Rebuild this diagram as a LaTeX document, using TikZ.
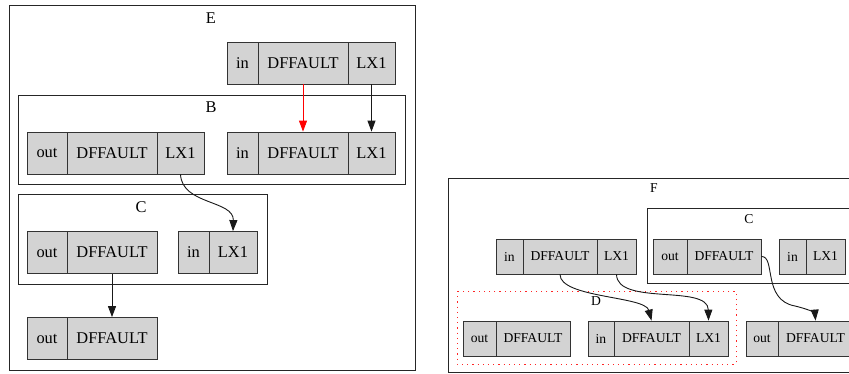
\documentclass[tikz,border=0pt]{standalone}
\usepackage{fontspec}
\setmainfont{Liberation Serif}
\usetikzlibrary{arrows.meta}
\begin{document}
\begin{tikzpicture}[x=1pt,y=-1pt,
  cellbig/.style={draw=black!80, line width=0.8pt, fill={rgb,255:red,211;green,211;blue,211}, inner sep=0pt, minimum height=42pt, font=\fontsize{16.4}{18}\selectfont},
  cellsmall/.style={draw=black!80, line width=0.8pt, fill={rgb,255:red,211;green,211;blue,211}, inner sep=0pt, minimum height=35pt, font=\fontsize{13.6}{15}\selectfont},
  cluster/.style={draw=black!85, line width=0.9pt},
  clusterD/.style={draw=red!85, line width=1pt, dash pattern=on 1.2pt off 4pt},
  biglabel/.style={font=\fontsize{16.4}{18}\selectfont, inner sep=0pt},
  smalllabel/.style={font=\fontsize{13.6}{15}\selectfont, inner sep=0pt},
  edge/.style={draw=black!90, line width=0.9pt, -{Triangle[length=11pt,width=8pt]}},
  redge/.style={draw=red, line width=0.9pt, -{Triangle[length=11pt,width=8pt]}}
]
\useasboundingbox (0,0) rectangle (849,373);
\fill[white] (0,0) rectangle (849,373);
\begin{scope}
\clip (0,0) rectangle (849,373);
% ---------------- Left: cluster E ----------------
\draw[cluster] (9,5) rectangle (415,370);
\node[biglabel] (lE) at (211,18) {E};
\draw[cluster] (18,95) rectangle (405,184);
\node[biglabel] (lB) at (211,107) {B};
\draw[cluster] (18,194) rectangle (267,284);
\node[biglabel] (lC) at (141,207) {C};

% E top node
\node[cellbig, minimum width=31pt] (e1in) at (242.5,63) {in};
\node[cellbig, minimum width=90pt] (e1df) at (303,63) {DFFAULT};
\node[cellbig, minimum width=47pt] (e1lx) at (371.5,63) {LX1};
% B left
\node[cellbig, minimum width=40pt] (b1out) at (47,153) {out};
\node[cellbig, minimum width=90pt] (b1df) at (112,153) {DFFAULT};
\node[cellbig, minimum width=47pt] (b1lx) at (180.5,153) {LX1};
% B right
\node[cellbig, minimum width=31pt] (b2in) at (242.5,153) {in};
\node[cellbig, minimum width=90pt] (b2df) at (303,153) {DFFAULT};
\node[cellbig, minimum width=47pt] (b2lx) at (371.5,153) {LX1};
% C left
\node[cellbig, minimum width=40pt] (c1out) at (47,252.5) {out};
\node[cellbig, minimum width=90pt] (c1df) at (112,252.5) {DFFAULT};
% C right
\node[cellbig, minimum width=31pt] (c2in) at (193.5,252.5) {in};
\node[cellbig, minimum width=48pt] (c2lx) at (233,252.5) {LX1};
% bottom
\node[cellbig, minimum width=40pt] (e2out) at (47,338.5) {out};
\node[cellbig, minimum width=90pt] (e2df) at (112,338.5) {DFFAULT};

\draw[redge] (e1df.south) -- (b2df.north);
\draw[edge] (e1lx.south) -- (b2lx.north);
\draw[edge] (b1lx.south) .. controls (182,205) and (234,200) .. (c2lx.north);
\draw[edge] (c1df.south) -- (e2df.north);

% ---------------- Right: cluster F ----------------
\draw[cluster] (448,178) rectangle (890,372);
\node[smalllabel] (lF) at (654,188) {F};
\draw[cluster] (647,208) rectangle (880,283);
\node[smalllabel] (lC2) at (749,219) {C};
\draw[clusterD] (457,291) rectangle (736,364);
\node[smalllabel] (lD) at (596,301) {D};

% F top
\node[cellsmall, minimum width=27pt] (f1in) at (509.5,256.5) {in};
\node[cellsmall, minimum width=74pt] (f1df) at (560,256.5) {DFFAULT};
\node[cellsmall, minimum width=39pt] (f1lx) at (616.5,256.5) {LX1};
% C (right) out
\node[cellsmall, minimum width=34pt] (g1out) at (670,256.5) {out};
\node[cellsmall, minimum width=74pt] (g1df) at (724,256.5) {DFFAULT};
% C (right) in
\node[cellsmall, minimum width=27pt] (g2in) at (792.5,256.5) {in};
\node[cellsmall, minimum width=39pt] (g2lx) at (825.5,256.5) {LX1};
% D out
\node[cellsmall, minimum width=33pt] (d1out) at (479.5,338.5) {out};
\node[cellsmall, minimum width=74pt] (d1df) at (533,338.5) {DFFAULT};
% D in
\node[cellsmall, minimum width=26pt] (d2in) at (601,338.5) {in};
\node[cellsmall, minimum width=75pt] (d2df) at (651.5,338.5) {DFFAULT};
\node[cellsmall, minimum width=39pt] (d2lx) at (708.5,338.5) {LX1};
% right bottom
\node[cellsmall, minimum width=32pt] (r1out) at (762,338.5) {out};
\node[cellsmall, minimum width=75pt] (r1df) at (815.5,338.5) {DFFAULT};

\draw[edge] (f1df.south) .. controls (560,298) and (645,296) .. (d2df.north);
\draw[edge] (f1lx.south) .. controls (617,306) and (708,284) .. (d2lx.north);
\draw[edge] (g1df.east) .. controls (776,256) and (762,300) .. (795,306) .. controls (812,310) and (815,314) .. (r1df.north);
\end{scope}
\end{tikzpicture}
\end{document}
